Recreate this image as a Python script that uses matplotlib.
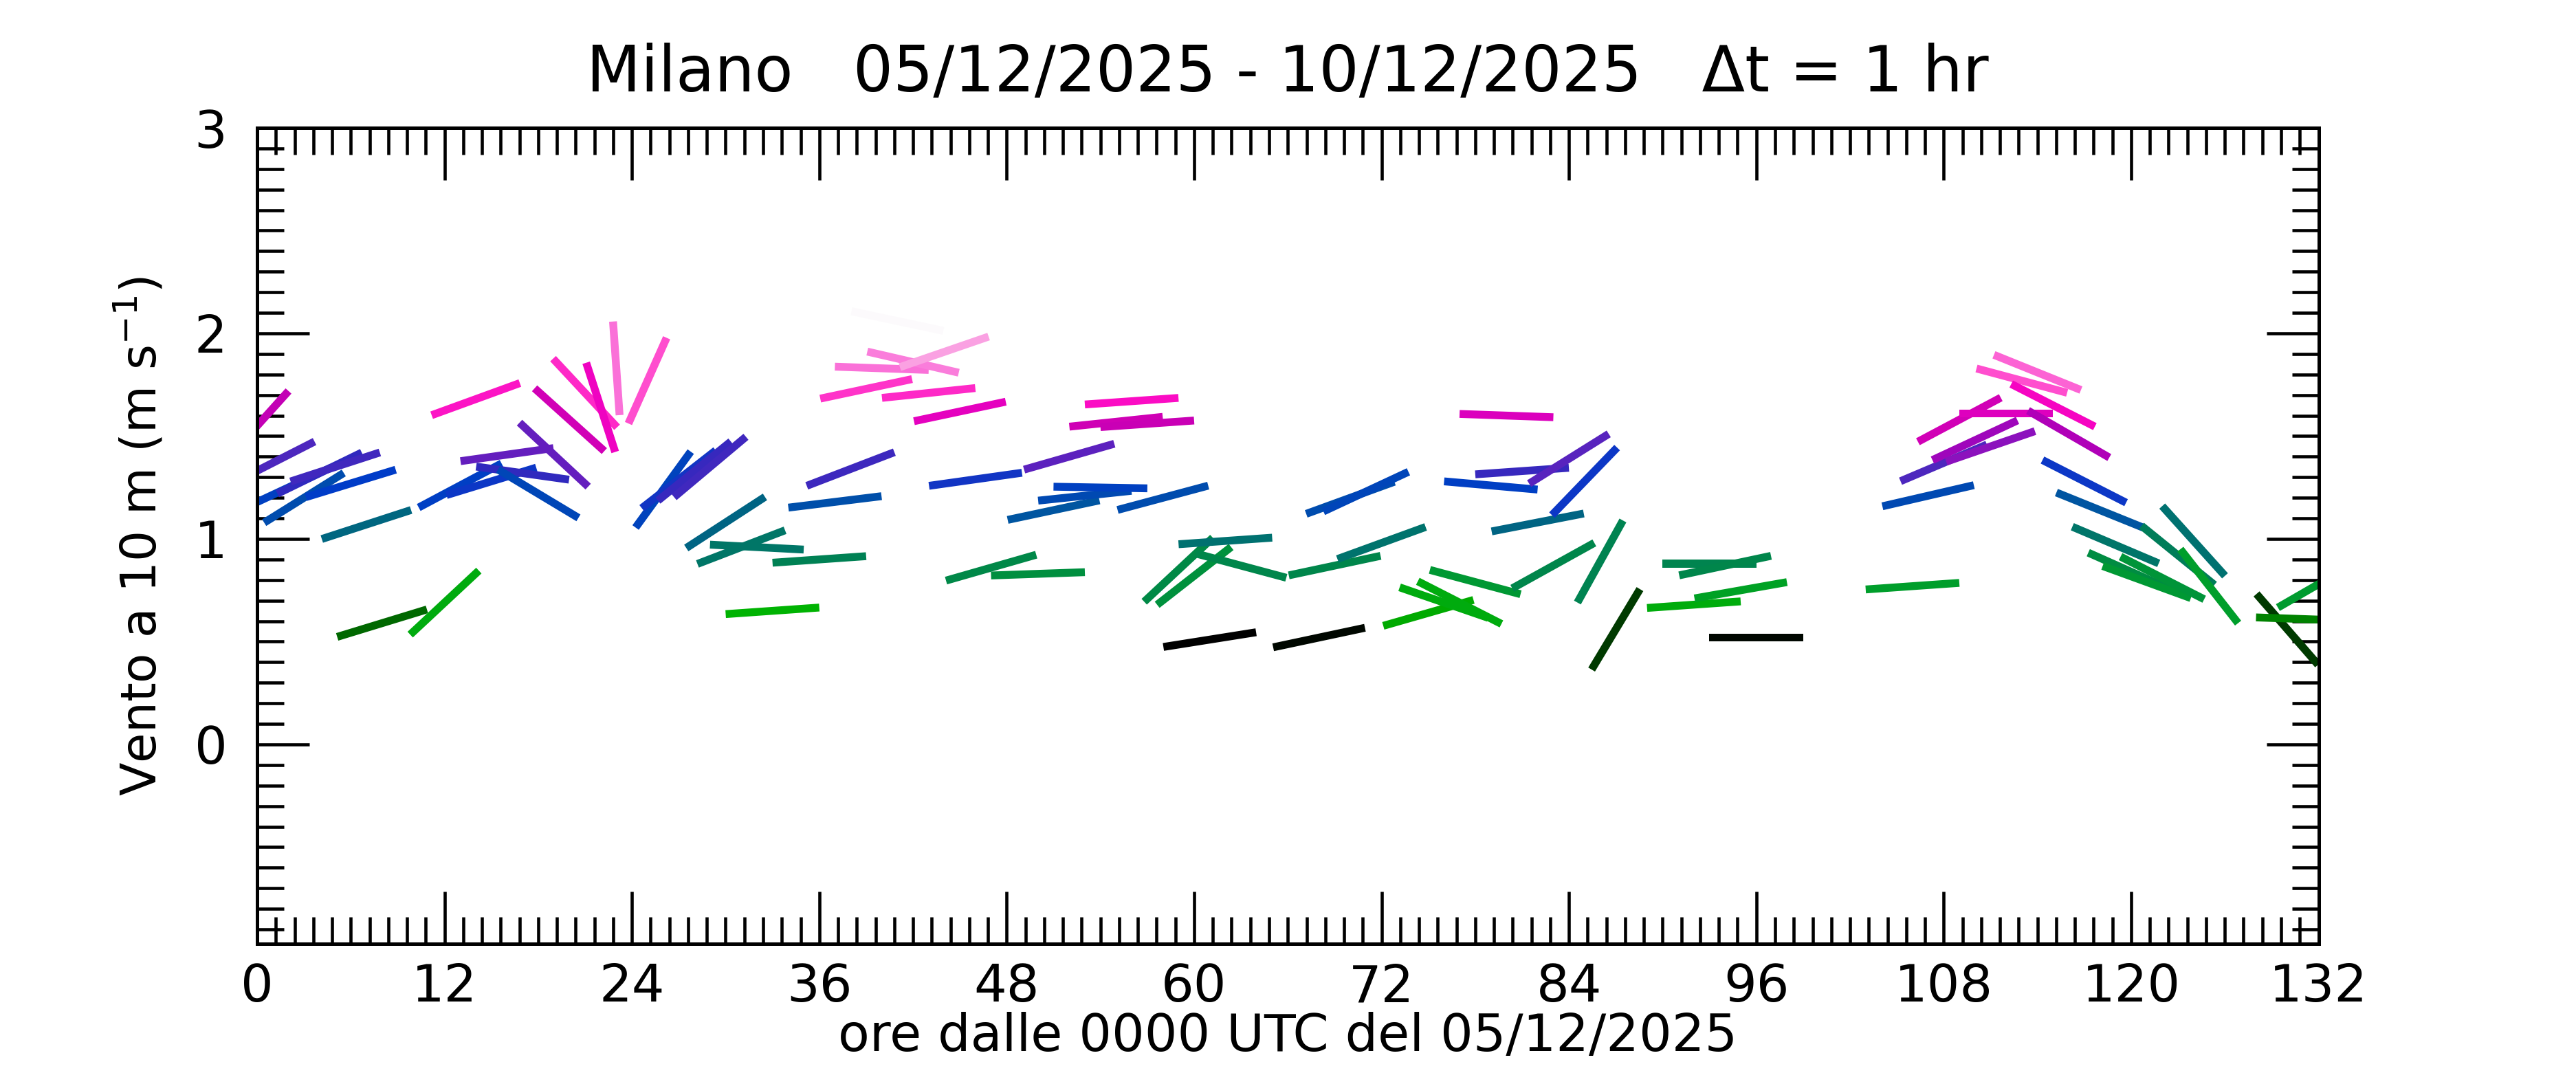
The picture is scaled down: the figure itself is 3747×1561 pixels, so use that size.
import matplotlib
matplotlib.use("Agg")
import matplotlib.pyplot as plt
import numpy as np
from matplotlib.colors import LinearSegmentedColormap, Normalize
from matplotlib.ticker import MultipleLocator

# hourly wind at 10 m: hour, speed (m/s), stick direction on screen (deg, ccw)
hours = [0, 1, 2, 3, 4, 5, 6, 7, 8, 12, 13, 14, 15, 16, 17, 18, 19, 20, 21, 22, 23,
         25, 26, 27, 28, 29, 30, 31, 32, 33, 36, 37, 38, 39, 40, 41, 42, 43, 44, 45, 46, 47,
         50, 51, 52, 53, 54, 55, 56, 57, 58, 59, 60, 61, 62, 63,
         68, 69, 70, 71, 72, 75, 76, 77, 78, 79, 80, 81, 82, 83, 84, 85, 86, 87,
         92, 93, 94, 95, 96, 106, 107, 108, 109, 110, 111, 112, 113, 114, 115, 116,
         117, 118, 119, 120, 121, 122, 123, 124, 125, 130, 131, 132]
speed = [1.55, 1.37, 1.25, 1.20, 1.32, 1.35, 1.27, 1.07, 0.59, 0.69, 1.26, 1.68, 1.28, 1.41, 1.32, 1.22, 1.41, 1.58, 1.71, 1.64, 1.83,
         1.77, 1.24, 1.29, 1.33, 1.35, 1.08, 0.96, 0.96, 0.65, 0.90, 1.18, 1.34, 1.73, 1.83, 2.06, 1.86, 1.71, 1.91, 1.62, 1.29, 0.86,
         0.83, 1.14, 1.40, 1.21, 1.25, 1.57, 1.67, 1.56, 1.20, 0.85, 0.82, 0.51, 0.99, 0.87,
         0.52, 0.87, 1.20, 1.23, 0.98, 0.64, 0.69, 0.69, 0.79, 1.26, 1.60, 1.33, 1.08, 0.87, 1.39, 1.28, 0.89, 0.56,
         0.68, 0.88, 0.87, 0.75, 0.52, 0.77, 1.21, 1.37, 1.58, 1.48, 1.45, 1.61, 1.77, 1.81, 1.65, 1.51,
         1.28, 1.14, 0.97, 0.84, 0.79, 0.81, 0.92, 0.99, 0.77, 0.56, 0.61, 0.78]
direction = [48, 27, 25, 32, 26, 18, 17, 18, 17, 43, 28, 20, 17, 8, -8, -31, -43, -42, -47, -72, -86,
             66, 54, 38, 39, 40, 33, 21, -3, 4, 4, 7, 21, 12, -2, -12, -13, 6, 19, 12, 8, 16,
             2, 12, 16, 6, -1, 6, 4, 4, 15, 43, 38, 9, 4, -15,
             12, 12, 20, 25, 20, 16, -19, -27, -15, -5, -2, 4, 11, 29, 32, 46, 61, 59,
             4, 0, 12, 10, 0, 4, 13, 23, 28, 25, 19, 0, -15, -22, -27, -30,
             -27, -22, -23, -24, -20, -27, -39, -48, -52, -49, -2, 30]

title = "Milano   05/12/2025 - 10/12/2025   \u0394t = 1 hr"
xlabel = "ore dalle 0000 UTC del 05/12/2025"
ylabel = r"Vento a 10 m (m s$^{\mathregular{-1}}$)"

# colour scale: speed -> colour
cmap_nodes = [(0.51, "#000000"), (0.56, "#003c00"), (0.60, "#007800"), (0.645, "#00b400"),
              (0.69, "#00aa0f"), (0.77, "#009d2d"), (0.85, "#008946"), (0.92, "#007d5a"),
              (0.98, "#00736e"), (1.08, "#006482"), (1.14, "#0055a0"), (1.20, "#004baf"),
              (1.27, "#003cc8"), (1.32, "#3228be"), (1.37, "#4b28be"), (1.41, "#641ebe"),
              (1.445, "#8714be"), (1.50, "#aa00b9"), (1.57, "#cd00b4"), (1.61, "#de00be"),
              (1.66, "#fa05c3"), (1.72, "#ff2dc8"), (1.77, "#ff4bcd"), (1.83, "#fa6ed7"),
              (1.87, "#fa82dc"), (1.91, "#fa9fe1"), (2.06, "#fcfafc")]
vmin, vmax = cmap_nodes[0][0], cmap_nodes[-1][0]
cmap = LinearSegmentedColormap.from_list(
    "wind", [((v - vmin) / (vmax - vmin), c) for v, c in cmap_nodes])
norm = Normalize(vmin, vmax)

W, H, DPI = 3747, 1561, 300
fig = plt.figure(figsize=(W / DPI, H / DPI), dpi=DPI)
ax = fig.add_axes([374 / W, 1 - 1373 / H, 2998.5 / W, 1187 / H])

n = len(hours)
ax.quiver(hours, speed, np.ones(n), np.zeros(n), speed, angles=np.array(direction, float),
          pivot="middle", scale_units="inches", scale=1 / 0.455, units="inches",
          width=0.038, headwidth=0, headlength=0, headaxislength=0,
          cmap=cmap, norm=norm, zorder=2)

ax.set_xlim(0, 132)
ax.set_ylim(-0.97, 3)
ax.xaxis.set_major_locator(MultipleLocator(12))
ax.xaxis.set_minor_locator(MultipleLocator(1.2))
ax.yaxis.set_major_locator(MultipleLocator(1))
ax.yaxis.set_minor_locator(MultipleLocator(0.1))
ax.tick_params(which="both", direction="in", top=True, right=True, width=1.1, colors="black")
ax.tick_params(which="major", length=18.3, labelsize=18)
ax.tick_params(axis="x", which="major", pad=6.5)
ax.tick_params(axis="y", which="major", pad=10.5)
ax.tick_params(which="minor", length=9.3)
for s in ax.spines.values():
    s.set_linewidth(1.2)

fig.text((374 + 3372.5) / 2 / W, 1 - 107 / H, title, ha="center", va="center", fontsize=22)
ax.set_xlabel(xlabel, fontsize=18)
ax.xaxis.set_label_coords(0.5, -0.083)
ax.set_ylabel(ylabel, fontsize=17)
ax.yaxis.set_label_coords(-0.044, 0.5)

fig.savefig("out.png", dpi=DPI, facecolor="white")
